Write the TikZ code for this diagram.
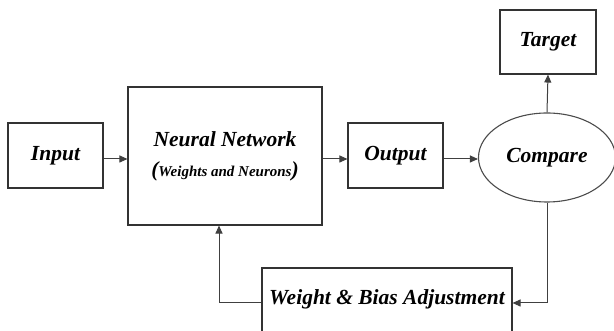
\documentclass[tikz,border=0pt]{standalone}
\usepackage{fontspec}
\setmainfont{Liberation Serif}
\usetikzlibrary{shapes.geometric, arrows.meta, positioning}

\tikzset{
  blockbox/.style={draw=black!80, line width=1.1pt, fill=white, inner sep=0pt,
    font=\fontsize{21.5}{26}\selectfont\bfseries\itshape},
  flow/.style={-{Triangle[length=8pt, width=7pt]}, line width=1pt, black!75}
}

\begin{document}
\begin{tikzpicture}[x=1pt, y=1pt]
      \useasboundingbox (0,0) rectangle (614,331);

      % Main chain
      \node[blockbox, minimum width=95pt, minimum height=65pt] (input) at (55.5, 175.5) {Input};
      \node[blockbox, minimum width=194pt, minimum height=138pt, align=center] (nn) at (225, 175)
        {Neural Network\\[4pt](\fontsize{15}{18}\selectfont Weights and Neurons\fontsize{21.5}{26}\selectfont)};
      \node[blockbox, minimum width=95pt, minimum height=65pt] (output) at (395.5, 175.5) {Output};
      \node[blockbox, ellipse, draw=black!70, minimum width=137pt, minimum height=89pt] (compare) at (547, 173.5) {Compare};

      % Target above the comparison
      \node[blockbox, minimum width=96pt, minimum height=64pt] (target) at (548, 289) {Target};

      % Adjustment block (runs off the bottom edge)
      \node[blockbox, minimum width=250pt, minimum height=70pt, text height=15pt, text depth=11pt] (adjust) at (387, 28) {Weight \& Bias Adjustment};

      % Forward arrows
      \draw[flow] ([yshift=-3.5pt]input.east) -- ([yshift=-3.5pt]input.east -| nn.west);
      \draw[flow] ([yshift=-3.5pt]output.west -| nn.east) -- ([yshift=-3.5pt]output.west);
      \draw[flow] ([yshift=-3.5pt]output.east) -- ([yshift=-3.5pt]output.east -| compare.west);
      \draw[flow] (compare.north) -- (target.south);

      % Feedback loop
      \draw[flow] (compare.south) |- (adjust.east);
      \draw[flow] (adjust.west) -| ([xshift=-6pt]nn.south);
\end{tikzpicture}
\end{document}
